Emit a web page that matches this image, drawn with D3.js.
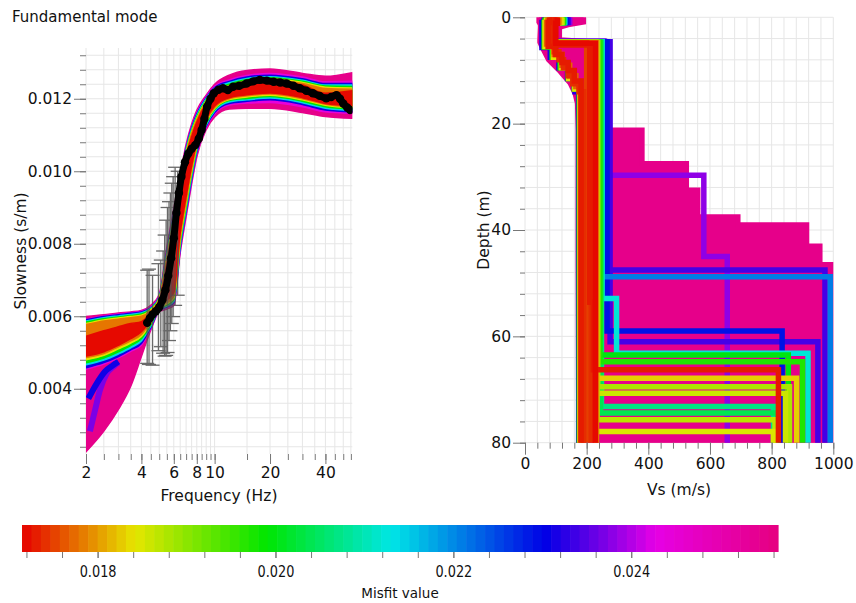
<!DOCTYPE html>
<html>
<head>
<meta charset="utf-8">
<script src="https://cdn.jsdelivr.net/npm/d3@7"></script>
<style>
  body { margin: 0; background: #fff; }
  svg text { font-family: "DejaVu Sans", Verdana, sans-serif; fill: #111; }
</style>
</head>
<body>
<div class="visualisation"></div>
<script>
// ---- dispersion curves (left panel) ----
// frequency samples (Hz) shared by every misfit band
const freqGrid = [2, 2.5, 3, 3.5, 4, 4.5, 5, 5.5, 6, 6.5, 7, 7.5, 8, 9, 10, 12, 15, 20, 30, 40, 56];

// misfit of each band, worst first (pink, magenta, blue, cyan, green, yellow, orange, red)
const bandMisfit = [0.0255, 0.0244, 0.0231, 0.0214, 0.0199, 0.0184, 0.0178, 0.0172];

// upper slowness edge of each band (s/m)
const bandUpper = [
  [.00599,.00604,.00609,.00612,.00616,.00630,.00660,.00790,.00898,.00990,.01074,.01130,.01168,.01210,.01240,.01265,.01278,.01282,.01270,.01262,.01272],
  [.00592,.00601,.00606,.00610,.00614,.00626,.00656,.00783,.00890,.00984,.01068,.01124,.01162,.01206,.01234,.01252,.01264,.01270,.01260,.01247,.01248],
  [.00590,.00599,.00604,.00608,.00612,.00624,.00654,.00778,.00885,.00980,.01064,.01120,.01158,.01203,.01231,.01248,.01260,.01265,.01255,.01242,.01242],
  [.00587,.00596,.00601,.00605,.00609,.00622,.00652,.00773,.00880,.00976,.01060,.01116,.01154,.01200,.01228,.01244,.01256,.01261,.01251,.01238,.01238],
  [.00584,.00593,.00598,.00602,.00606,.00620,.00650,.00768,.00875,.00972,.01056,.01112,.01150,.01197,.01225,.01240,.01253,.01258,.01248,.01235,.01234],
  [.00580,.00590,.00595,.00599,.00603,.00618,.00648,.00763,.00870,.00968,.01052,.01108,.01146,.01194,.01222,.01236,.01250,.01255,.01245,.01232,.01230],
  [.00577,.00587,.00592,.00596,.00600,.00616,.00646,.00758,.00865,.00964,.01048,.01104,.01142,.01191,.01219,.01232,.01247,.01252,.01242,.01228,.01226],
  [.00545,.00560,.00571,.00580,.00585,.00610,.00642,.00745,.00855,.00958,.01042,.01095,.01135,.01187,.01216,.01226,.01243,.01248,.01238,.01215,.01222]
];
// lower slowness edge of each band (s/m)
const bandLower = [
  [.00226,.00283,.00343,.00407,.00489,.00562,.00613,.00620,.00630,.00775,.00875,.00965,.01040,.01115,.01150,.01172,.01174,.01174,.01162,.01151,.01146],
  [.00454,.00468,.00485,.00503,.00520,.00566,.00615,.00623,.00634,.00782,.00882,.00972,.01046,.01120,.01158,.01183,.01188,.01190,.01178,.01164,.01160],
  [.00458,.00472,.00489,.00507,.00525,.00569,.00617,.00625,.00637,.00788,.00888,.00978,.01052,.01124,.01162,.01187,.01193,.01197,.01184,.01169,.01164],
  [.00466,.00479,.00496,.00513,.00532,.00573,.00619,.00628,.00641,.00795,.00895,.00985,.01058,.01128,.01166,.01191,.01197,.01202,.01189,.01174,.01168],
  [.00472,.00485,.00502,.00519,.00538,.00577,.00621,.00631,.00645,.00802,.00902,.00992,.01063,.01132,.01170,.01195,.01201,.01206,.01193,.01178,.01172],
  [.00480,.00492,.00510,.00526,.00544,.00581,.00623,.00634,.00650,.00810,.00910,.00998,.01068,.01136,.01173,.01198,.01205,.01210,.01197,.01182,.01175],
  [.00486,.00497,.00516,.00532,.00550,.00585,.00625,.00638,.00655,.00818,.00918,.01005,.01073,.01140,.01176,.01200,.01208,.01213,.01200,.01185,.01178],
  [.00490,.00502,.00520,.00538,.00557,.00590,.00628,.00645,.00665,.00830,.00930,.01015,.01080,.01146,.01180,.01203,.01211,.01216,.01203,.01187,.01181]
];

// two isolated curves inside the pink fan at low frequency
const loneMisfit = [0.0237, 0.0231];
const loneFreq = [[2.1, 2.24, 2.38, 2.59, 2.81, 3.0], [2.06, 2.29, 2.53, 2.81, 3.0]];
const loneSlow = [[0.00283, 0.00341, 0.00396, 0.00442, 0.00461, 0.00472], [0.00373, 0.00415, 0.00447, 0.00465, 0.00475]];

// measured curve
const obsFreq = [4.3, 4.45, 4.6, 4.8, 5.0, 5.2, 5.4, 5.6, 5.8, 6.0, 6.2, 6.4, 6.6, 6.9, 7.2, 7.5, 7.85, 8.2, 8.5, 8.8,
  9.1, 9.5, 9.9, 10.5, 11.1, 11.8, 12.6, 13.6, 14.9, 16.2, 17.6, 19.2, 20.9, 22.7, 24.6, 26.8, 29, 31.5, 34.2,
  37.2, 40.4, 43, 46, 48, 50, 52.5, 54.5];
const obsSlow = [.00582, .00595, .00605, .00614, .00625, .00645, .00672, .00712, .00760, .00815, .00885, .00940,
  .00985, .01025, .01049, .01062, .01072, .01090, .01114, .01145, .01178, .01200, .01215, .01225, .01229, .01224,
  .01233, .01236, .01242, .01248, .01252, .01250, .01247, .01245, .01242, .01236, .01229, .01222, .01215, .01208,
  .01201, .01205, .01210, .01200, .01187, .01176, .01169];

// error bars of the measured curve
const errFreq = [4.3, 4.4, 4.6, 4.95, 5.1, 5.25, 5.35, 5.45, 5.55, 5.65, 5.75, 5.85, 5.95, 6.1, 6.3];
const errLow = [.00470, .00467, .00465, .00505, .00516, .00498, .00490, .00492, .00500, .00533, .00560, .00580, .00599, .00630, .00658];
const errHigh = [.00727, .00730, .00713, .00745, .00755, .00780, .00824, .00865, .00900, .00916, .00940, .00967, .00985, .01011, .01000];

// ---- Vs profiles (right panel) ----
// envelope of the worst (pink) models: depth (m), min and max Vs (m/s)
const envDepth = [0, 0.9, 1.4, 1.9, 4.2, 4.7, 5.5, 8.0, 10.2, 12.4, 14.3, 16.2, 21.2, 21.2, 27.5, 27.5, 32.5, 32.5, 37.5, 37.5, 39, 39, 43, 43, 46.5, 46.5, 80];
const envVmin = [45, 45, 50, 50, 48, 48, 54, 76, 114, 146, 162, 170, 172, 172, 172, 172, 172, 172, 172, 172, 172, 172, 172, 172, 172, 172, 174];
const envVmax = [190, 190, 140, 112, 112, 252, 255, 255, 255, 255, 255, 255, 255, 380, 380, 524, 524, 561, 561, 691, 691, 914, 914, 957, 957, 995, 995];

// individual models: misfit, layer bottom depths (m), layer Vs (m/s)
const profMisfit = [0.0238, 0.0234, 0.0234, 0.0229, 0.0232, 0.0221, 0.0212, 0.0207, 0.0204, 0.0200, 0.0197, 0.0199,
  0.0183, 0.0188, 0.0186, 0.0187, 0.0185, 0.0184, 0.0178, 0.0177, 0.0175, 0.0174, 0.0173, 0.0174, 0.0172, 0.0173];
const profDepth = [
  [1, 4.5, 29.7, 45, 80], [1, 4.6, 61, 80], [0.9, 4.5, 47.5, 80], [1, 4.6, 59, 80], [1, 5.7, 7.5, 9.5, 11.5, 14, 80],
  [0.9, 4.6, 48.8, 80], [1, 4.6, 52.9, 63.2, 80], [1, 4.7, 73.2, 80], [1, 4.7, 74.4, 80], [1, 4.7, 63.5, 80],
  [1, 4.7, 64.8, 80], [1, 5.6, 7.5, 9.5, 11.5, 13.5, 80], [0.9, 4.7, 67.9, 80], [1, 4.7, 69.5, 80], [1, 4.8, 70.7, 80],
  [1, 4.8, 75.7, 80], [1, 4.9, 77.9, 80], [1, 5.5, 7.5, 9.5, 11.5, 13.5, 80], [1, 4.8, 80], [1, 5, 7, 9, 11, 13, 80],
  [1, 4.8, 80], [0.9, 5, 80], [1, 5.2, 53.6, 66.3, 80], [1, 5, 6.5, 8, 9.5, 11, 12.5, 14, 80], [1.1, 4.9, 80],
  [1, 5.5, 7, 8.5, 10, 12, 80]
];
const profVs = [
  [145, 88, 258, 580, 656], [140, 58, 276, 950], [138, 92, 255, 973], [135, 60, 266, 834], [62, 55, 82, 110, 138, 162, 174],
  [130, 90, 250, 990], [128, 88, 250, 297, 918], [126, 94, 248, 806], [124, 93, 245, 820], [122, 92, 240, 854],
  [125, 95, 243, 900], [65, 62, 88, 114, 140, 160, 176], [115, 95, 230, 881], [112, 90, 236, 858], [118, 95, 232, 845],
  [120, 98, 234, 811], [108, 92, 230, 806], [70, 65, 92, 118, 142, 162, 178], [110, 92, 232], [75, 70, 95, 120, 145, 165, 180],
  [95, 90, 200], [85, 80, 215], [100, 95, 210, 222, 822], [90, 85, 95, 110, 125, 140, 155, 175, 190], [105, 100, 228],
  [80, 75, 100, 120, 140, 160, 182]
];

// colour bar
const barTicks = [0.018, 0.020, 0.022, 0.024];

const wdth = 856;
const hght = 603;

const svg = d3.select(".visualisation")
  .append("svg")
  .attr("width", wdth)
  .attr("height", hght);

// misfit palette
const misfitDomain = [0.01715, 0.02565];
const color = d3.scaleLinear()
  .domain([0.01715, 0.01842, 0.01990, 0.02130, 0.02303, 0.02427, 0.02565])
  .range(["#e60000", "#e6e600", "#00e600", "#00e6e6", "#0000e6", "#e600e6", "#e6007f"])
  .clamp(true);

const gridColor = "#e6e6e6";
const tickColor = "#777";

function styleAxis(g) {
  g.select(".domain").remove();
  g.selectAll(".tick line").attr("stroke", tickColor);
  g.selectAll(".tick text").style("font-size", "15.5px").attr("fill", "#111");
}

// ================= left panel =================
const xF = d3.scaleLog().domain([2, 56]).range([86, 352.3]);
const yS = d3.scaleLinear().domain([0.0022, 0.0134]).range([454, 48]);

const left = svg.append("g");
left.append("clipPath").attr("id", "clipL")
  .append("rect").attr("x", 86).attr("y", 48).attr("width", 352.3 - 86).attr("height", 454 - 48);

const gridF = d3.range(4, 20).map(d => d / 2).concat([10, 15, 20, 25, 30, 35, 40, 45, 50, 55]);
const gridS = d3.range(6, 34).map(d => d * 0.0004);

left.append("g").selectAll("line.v").data(gridF).enter().append("line")
  .attr("x1", d => xF(d)).attr("x2", d => xF(d))
  .attr("y1", 48).attr("y2", 454)
  .attr("stroke", gridColor);
left.append("g").selectAll("line.h").data(gridS).enter().append("line")
  .attr("x1", 86).attr("x2", 352.3)
  .attr("y1", d => yS(d)).attr("y2", d => yS(d))
  .attr("stroke", gridColor);

const plotL = left.append("g").attr("clip-path", "url(#clipL)");

const band = d3.area()
  .x(d => xF(d.f))
  .y0(d => yS(d.lo))
  .y1(d => yS(d.hi))
  .curve(d3.curveMonotoneX);

bandMisfit.forEach((m, b) => {
  const pts = freqGrid.map((f, i) => ({f: f, lo: bandLower[b][i], hi: bandUpper[b][i]}));
  plotL.append("path")
    .attr("d", band(pts))
    .attr("fill", color(m))
    .attr("stroke", color(m))
    .attr("stroke-width", 1.5);
  // isolated curves are drawn right after the pink band
  if (b === 0) {
    loneMisfit.forEach((lm, k) => {
      plotL.append("path")
        .datum(loneFreq[k].map((f, i) => [f, loneSlow[k][i]]))
        .attr("d", d3.line().x(d => xF(d[0])).y(d => yS(d[1])).curve(d3.curveMonotoneX))
        .attr("fill", "none")
        .attr("stroke", color(lm))
        .attr("stroke-width", 6);
    });
  }
});

// error bars
const errG = plotL.append("g").attr("stroke", "#505050").attr("stroke-width", 1.3).attr("opacity", 0.85);
errFreq.forEach((f, i) => {
  const x = xF(f);
  errG.append("line").attr("x1", x).attr("x2", x).attr("y1", yS(errLow[i])).attr("y2", yS(errHigh[i]));
  errG.append("line").attr("x1", x - 7).attr("x2", x + 7).attr("y1", yS(errLow[i])).attr("y2", yS(errLow[i]));
  errG.append("line").attr("x1", x - 7).attr("x2", x + 7).attr("y1", yS(errHigh[i])).attr("y2", yS(errHigh[i]));
});

// measured curve
const obs = obsFreq.map((f, i) => [f, obsSlow[i]]);
plotL.append("path")
  .datum(obs)
  .attr("d", d3.line().x(d => xF(d[0])).y(d => yS(d[1])).curve(d3.curveCatmullRom))
  .attr("fill", "none")
  .attr("stroke", "#000")
  .attr("stroke-width", 7)
  .attr("stroke-linecap", "round");
plotL.selectAll("circle.obs").data(obs).enter().append("circle")
  .attr("cx", d => xF(d[0])).attr("cy", d => yS(d[1])).attr("r", 4.2).attr("fill", "#000");

// axes
const fMajor = [2, 4, 6, 8, 10, 20, 40];
const sMajor = [0.004, 0.006, 0.008, 0.010, 0.012];
left.append("g").attr("transform", "translate(86,0)")
  .call(d3.axisLeft(yS).tickValues(gridS).tickSize(6).tickFormat(""))
  .call(styleAxis);
left.append("g").attr("transform", "translate(86,0)")
  .call(d3.axisLeft(yS).tickValues(sMajor).tickSize(12).tickPadding(2).tickFormat(d3.format(".3f")))
  .call(styleAxis);
left.append("g").attr("transform", "translate(0,454)")
  .call(d3.axisBottom(xF).tickValues(gridF).tickSize(6).tickFormat(""))
  .call(styleAxis);
left.append("g").attr("transform", "translate(0,454)")
  .call(d3.axisBottom(xF).tickValues(fMajor).tickSize(10).tickPadding(3).tickFormat(d3.format("d")))
  .call(styleAxis);

left.append("text").attr("x", 12).attr("y", 22).style("font-size", "15px").text("Fundamental mode");
left.append("text").attr("x", 219).attr("y", 501).attr("text-anchor", "middle")
  .style("font-size", "15.5px").text("Frequency (Hz)");
left.append("text").attr("transform", "translate(26,251) rotate(-90)").attr("text-anchor", "middle")
  .style("font-size", "15.5px").text("Slowness (s/m)");

// ================= right panel =================
const xV = d3.scaleLinear().domain([0, 1000]).range([525, 833.3]);
const yD = d3.scaleLinear().domain([0, 80]).range([17.3, 442.7]);

const right = svg.append("g");
right.append("clipPath").attr("id", "clipR")
  .append("rect").attr("x", 525).attr("y", 17.3).attr("width", 833.3 - 525).attr("height", 442.7 - 17.3);

const gridV = d3.range(0, 26).map(d => d * 40);
const gridD = d3.range(0, 21).map(d => d * 4);
right.append("g").selectAll("line").data(gridV).enter().append("line")
  .attr("x1", d => xV(d)).attr("x2", d => xV(d)).attr("y1", 17.3).attr("y2", 442.7)
  .attr("stroke", gridColor);
right.append("g").selectAll("line").data(gridD).enter().append("line")
  .attr("x1", 525).attr("x2", 833.3).attr("y1", d => yD(d)).attr("y2", d => yD(d))
  .attr("stroke", gridColor);

const plotR = right.append("g").attr("clip-path", "url(#clipR)");

const env = envDepth.map((d, i) => ({d: d, a: envVmin[i], b: envVmax[i]}));
plotR.append("path")
  .attr("d", d3.area().y(d => yD(d.d)).x0(d => xV(d.a)).x1(d => xV(d.b))(env))
  .attr("fill", color(0.0255))
  .attr("stroke", color(0.0255))
  .attr("stroke-width", 5);

// step profiles, worst misfit first so best ends on top
const order = d3.range(profMisfit.length).sort((a, b) => profMisfit[b] - profMisfit[a]);
const stepLine = d3.line().x(d => xV(d[0])).y(d => yD(d[1]));
order.forEach(k => {
  const pts = [];
  let top = 0;
  profVs[k].forEach((v, i) => {
    pts.push([v, top]);
    top = profDepth[k][i];
    pts.push([v, i === profVs[k].length - 1 ? 85 : top]);
  });
  plotR.append("path")
    .attr("d", stepLine(pts))
    .attr("fill", "none")
    .attr("stroke", color(profMisfit[k]))
    .attr("stroke-width", 5.5)
    .attr("stroke-linejoin", "miter");
});

right.append("g").attr("transform", "translate(525,0)")
  .call(d3.axisLeft(yD).tickValues(gridD).tickSize(5).tickFormat(""))
  .call(styleAxis);
right.append("g").attr("transform", "translate(525,0)")
  .call(d3.axisLeft(yD).tickValues([0, 20, 40, 60, 80]).tickSize(12).tickPadding(2))
  .call(styleAxis);
right.append("g").attr("transform", "translate(0,442.7)")
  .call(d3.axisBottom(xV).tickValues(gridV).tickSize(6).tickFormat(""))
  .call(styleAxis);
right.append("g").attr("transform", "translate(0,442.7)")
  .call(d3.axisBottom(xV).tickValues([0, 200, 400, 600, 800, 1000]).tickSize(12).tickPadding(3).tickFormat(d3.format("d")))
  .call(styleAxis);

right.append("text").attr("x", 679).attr("y", 495).attr("text-anchor", "middle")
  .style("font-size", "15.5px").text("Vs (m/s)");
right.append("text").attr("transform", "translate(489,230) rotate(-90)").attr("text-anchor", "middle")
  .style("font-size", "15.5px").text("Depth (m)");

// ================= colour bar =================
const xM = d3.scaleLinear().domain(misfitDomain).range([22, 778]);
const nSteps = 80;
const stepW = (778 - 22) / nSteps;
const bar = svg.append("g");
bar.selectAll("rect").data(d3.range(nSteps)).enter().append("rect")
  .attr("x", i => 22 + i * stepW)
  .attr("y", 525)
  .attr("width", stepW + 0.6)
  .attr("height", 27)
  .attr("fill", i => color(xM.invert(22 + (i + 0.5) * stepW)));

const barMinor = d3.range(43, 65).map(d => d * 0.0004);
bar.append("g").attr("transform", "translate(0,552)")
  .call(d3.axisBottom(xM).tickValues(barMinor).tickSize(6).tickFormat(""))
  .call(styleAxis);
const barAxis = bar.append("g").attr("transform", "translate(0,552)")
  .call(d3.axisBottom(xM).tickValues(barTicks).tickSize(6).tickPadding(8).tickFormat(d3.format(".3f")))
  .call(styleAxis);
// the bar labels are narrow in the original
barAxis.selectAll(".tick text").style("font-size", "15px").attr("transform", "scale(0.86,1)");
bar.append("text").attr("x", 400).attr("y", 598).attr("text-anchor", "middle")
  .style("font-size", "13.5px").text("Misfit value");
</script>
</body>
</html>
